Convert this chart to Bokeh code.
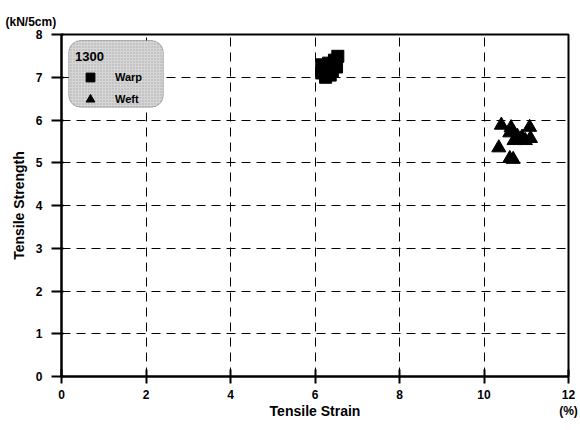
from bokeh.plotting import figure
from bokeh.models import Legend, LegendItem, BoxAnnotation, Title, FixedTicker, Range1d
from bokeh.embed import file_html
from bokeh.resources import INLINE

# Data
warp_x = [6.16, 6.16, 6.25, 6.36, 6.41, 6.51, 6.54, 6.32, 6.46, 6.27]
warp_y = [7.29, 7.10, 7.00, 7.05, 7.14, 7.24, 7.49, 7.33, 7.40, 7.20]
weft_x = [10.41, 10.64, 11.08, 10.61, 10.79, 10.90, 11.10, 10.71, 10.98, 10.35, 10.61, 10.69]
weft_y = [5.88, 5.82, 5.83, 5.70, 5.62, 5.60, 5.57, 5.52, 5.52, 5.35, 5.10, 5.08]
x_ticks = [0, 2, 4, 6, 8, 10, 12]
y_ticks = [0, 1, 2, 3, 4, 5, 6, 7, 8]
legend_title = "1300"
series_names = ["Warp", "Weft"]

FONT = "Liberation Sans"

p = figure(width=580, height=430, output_backend="svg", toolbar_location=None,
           x_range=Range1d(0, 12), y_range=Range1d(0, 8),
           min_border_left=61, min_border_right=12, min_border_top=34, min_border_bottom=54)
p.background_fill_color = "white"
p.border_fill_color = "white"
p.outline_line_color = "black"
p.outline_line_width = 2

# unit label at top-left
p.title = Title(text="(kN/5cm)", align="left", offset=-56, standoff=12,
                text_font=FONT, text_font_style="bold", text_font_size="12px", text_color="black")

# legend box (rounded, stippled gray)
box = BoxAnnotation(left=0.17, right=2.41, top=7.86, bottom=6.30,
                    fill_color="#d6d6d6", fill_alpha=1.0,
                    line_color="#333333", line_width=1, border_radius=12,
                    hatch_pattern="dot", hatch_color="#9a9a9a", hatch_scale=3, hatch_alpha=0.8)
p.add_layout(box)

r_warp = p.scatter(warp_x, warp_y, marker="square", size=12, color="black")
r_weft = p.scatter(weft_x, weft_y, marker="triangle", size=14, color="black")

# axes
for ax in (p.xaxis[0], p.yaxis[0]):
    ax.axis_line_width = 2
    ax.axis_line_color = "black"
    ax.major_tick_line_width = 2
    ax.major_tick_line_color = "black"
    ax.minor_tick_line_color = None
    ax.major_label_text_font = FONT
    ax.major_label_text_font_style = "bold"
    ax.major_label_text_font_size = "12px"
    ax.major_label_text_color = "black"
    ax.axis_label_text_font = FONT
    ax.axis_label_text_font_style = "bold"
    ax.axis_label_text_font_size = "14px"
    ax.axis_label_text_color = "black"

p.xaxis.ticker = FixedTicker(ticks=x_ticks)
p.yaxis.ticker = FixedTicker(ticks=y_ticks)
p.xaxis.major_label_overrides = {12: "12\n(%)"}
p.xaxis.major_tick_in = 7
p.xaxis.major_tick_out = 7
p.xaxis.major_label_standoff = 4
p.xaxis.axis_label = "Tensile Strain"
p.xaxis.axis_label_standoff = -18
p.yaxis.major_tick_in = 2
p.yaxis.major_tick_out = 10
p.yaxis.major_label_standoff = 9
p.yaxis.axis_label = "Tensile Strength"
p.yaxis.axis_label_standoff = 6

p.xgrid.ticker = FixedTicker(ticks=x_ticks[1:-1])
p.ygrid.ticker = FixedTicker(ticks=y_ticks[1:-1])
for g in (p.xgrid[0], p.ygrid[0]):
    g.grid_line_color = "black"
    g.grid_line_width = 1
    g.grid_line_dash = "9 6"

legend = Legend(items=[LegendItem(label=series_names[0], renderers=[r_warp]),
                       LegendItem(label=series_names[1], renderers=[r_weft])],
                location=(14, 266), margin=0, padding=8,
                title=legend_title, title_text_font=FONT, title_text_font_style="bold",
                title_text_font_size="13px", title_standoff=2, title_text_color="black",
                label_text_font=FONT, label_text_font_style="bold", label_text_font_size="11px",
                label_text_color="black",
                label_standoff=10, glyph_width=30, glyph_height=22, label_height=16,
                spacing=0, background_fill_alpha=0, border_line_color=None)
p.add_layout(legend)

open("out.html", "w").write(file_html(p, INLINE))
